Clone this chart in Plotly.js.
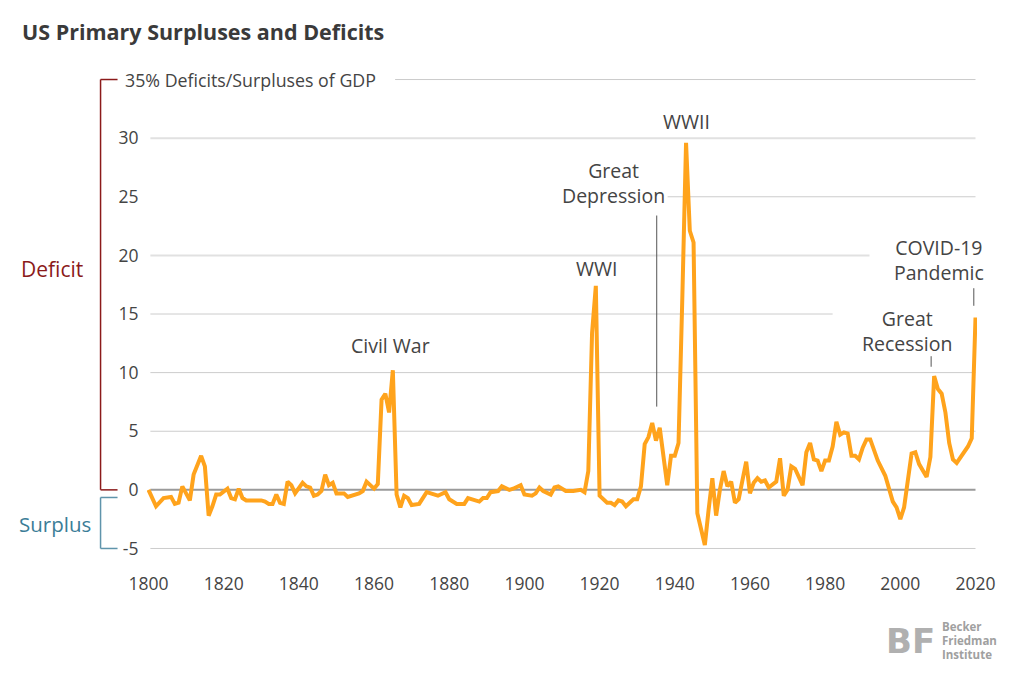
<!DOCTYPE html>
<html>
<head>
<meta charset="utf-8">
<script src="https://cdn.plot.ly/plotly-3.0.1.min.js"></script>
<style>html,body{margin:0;padding:0;background:#fff;}#chart{width:1022px;height:685px;}</style>
</head>
<body>
<div id="chart"></div>
<script>
// Years and primary deficit (+) / surplus (-) as % of GDP
const years = [1800,1802,1804,1806,1807,1808,1809,1811,1812,1814,1815,1816,1817,1818,1819,1821,1822,1823,1824,1825,1826,1828,1830,1831,1832,1833,1834,1835,1836,1837,1838,1839,1841,1842,1843,1844,1845,1846,1847,1848,1849,1850,1852,1853,1854,1856,1857,1858,1860,1861,1862,1863,1864,1865,1866,1867,1868,1869,1870,1872,1874,1877,1879,1880,1882,1884,1885,1886,1888,1889,1890,1891,1893,1894,1896,1897,1899,1900,1902,1903,1904,1905,1907,1908,1909,1911,1913,1915,1916,1917,1918,1919,1920,1922,1923,1924,1925,1926,1927,1929,1930,1931,1932,1933,1934,1935,1936,1938,1939,1940,1941,1942,1943,1944,1945,1946,1948,1949,1950,1951,1952,1953,1954,1955,1956,1957,1959,1960,1961,1962,1963,1964,1965,1967,1968,1969,1970,1971,1972,1974,1975,1976,1977,1978,1979,1980,1981,1982,1983,1984,1985,1986,1987,1988,1989,1990,1991,1992,1993,1994,1996,1997,1998,1999,2000,2001,2002,2003,2004,2005,2007,2008,2009,2010,2011,2012,2013,2014,2015,2016,2017,2018,2019,2020];
const balance = [0.0,-1.4,-0.7,-0.6,-1.2,-1.1,0.3,-0.9,1.3,2.9,2.0,-2.2,-1.4,-0.4,-0.4,0.1,-0.7,-0.8,0.1,-0.7,-0.9,-0.9,-0.9,-1.0,-1.2,-1.2,-0.4,-1.1,-1.2,0.7,0.4,-0.3,0.6,0.3,0.2,-0.5,-0.4,-0.1,1.3,0.4,0.6,-0.3,-0.3,-0.6,-0.5,-0.3,-0.1,0.7,0.1,0.5,7.7,8.2,6.6,10.2,-0.4,-1.5,-0.5,-0.7,-1.3,-1.2,-0.2,-0.5,-0.2,-0.8,-1.2,-1.2,-0.7,-0.8,-1.0,-0.7,-0.7,-0.2,-0.1,0.3,0.0,0.1,0.4,-0.4,-0.5,-0.3,0.2,-0.1,-0.4,0.2,0.3,-0.1,-0.1,0.0,-0.2,1.6,13.4,17.4,-0.5,-1.1,-1.1,-1.3,-0.9,-1.0,-1.4,-0.8,-0.8,0.3,3.9,4.5,5.7,4.2,5.3,0.4,2.9,2.9,4.0,16.3,29.6,22.1,21.1,-2.0,-4.7,-1.7,1.0,-2.2,0.0,1.6,0.3,0.7,-1.1,-0.8,2.4,-0.3,0.6,1.0,0.7,0.8,0.2,0.7,2.7,-0.5,0.0,2.0,1.8,0.4,3.2,4.0,2.6,2.5,1.6,2.5,2.5,3.7,5.8,4.7,4.9,4.8,2.9,2.9,2.6,3.6,4.3,4.3,3.5,2.5,1.2,0.0,-1.0,-1.5,-2.5,-1.5,0.9,3.1,3.2,2.2,1.1,2.8,9.7,8.6,8.2,6.6,4.0,2.6,2.3,2.8,3.3,3.7,4.4,14.7];

const xTicks = [1800,1820,1840,1860,1880,1900,1920,1940,1960,1980,2000,2020];
const yTicks = [-5,0,5,10,15,20,25,30];
const yTickLabels = ['-5','0','5','10','15','20','25','30'];

// Event labels
const eventText = ['Civil War','WWI','Great<br>Depression','WWII','COVID-19<br>Pandemic','Great<br>Recession'];
const eventYear = [1864.3,1919.3,1923.6,1943.0,2010.4,2001.9];
const eventValue = [12.3,18.9,26.15,31.4,19.6,13.55];

// Leader lines [year, from, to]
const leaderYear = [1935.2,2019.55,2008.2];
const leaderFrom = [23.4,17.2,11.4];
const leaderTo = [7.1,15.7,10.5];

// gridlines: value, start year, end year
const gridValue = [35,30,25,20,15,10,5,-5];
const gridStart = [1865.6,1800.5,1938.1,1800.5,1800.5,1800.5,1800.5,1800.5];
const gridEnd = [2020,2020,2020,1991.8,1982,2020,2020,2020];
const gridThick = [false,true,false,true,false,false,false,false];

const FONT = '"Open Sans", Lato, "DejaVu Sans", sans-serif';
const TXT = '#444444';

const shapes = [];
gridValue.forEach((v,i)=>{
  shapes.push({type:'line',xref:'x',yref:'y',layer:'below',x0:gridStart[i],x1:gridEnd[i],y0:v,y1:v,
    line:{color:gridThick[i]?'#e1e1e1':'#cccccc',width:gridThick[i]?2:1}});
});
// zero line
shapes.push({type:'line',xref:'x',yref:'y',layer:'below',x0:1800.5,x1:2020,y0:0,y1:0,line:{color:'#9a9a9a',width:2}});
// leader lines
leaderYear.forEach((x,i)=>{
  shapes.push({type:'line',xref:'x',yref:'y',x0:x,x1:x,y0:leaderFrom[i],y1:leaderTo[i],line:{color:'#555555',width:1}});
});
// brackets
const bx0 = -0.05596, bx1 = -0.0355;
const red = '#8b1a1a', blue = '#3b7d97', blueLine = '#5f94ab';
shapes.push({type:'line',xref:'paper',yref:'y',x0:bx0,x1:bx0,y0:35,y1:0,line:{color:red,width:1.5}});
shapes.push({type:'line',xref:'paper',yref:'y',x0:bx0,x1:bx1,y0:35,y1:35,line:{color:red,width:1.5}});
shapes.push({type:'line',xref:'paper',yref:'y',x0:bx0,x1:bx1,y0:0,y1:0,line:{color:red,width:1.5}});
shapes.push({type:'line',xref:'paper',yref:'y',x0:bx0,x1:bx0,y0:-0.65,y1:-5,line:{color:blueLine,width:1.5}});
shapes.push({type:'line',xref:'paper',yref:'y',x0:bx0,x1:bx1,y0:-0.65,y1:-0.65,line:{color:blueLine,width:1.5}});
shapes.push({type:'line',xref:'paper',yref:'y',x0:bx0,x1:bx1,y0:-5,y1:-5,line:{color:blueLine,width:1.5}});

const annotations = eventText.map((t,i)=>({
  text:t,x:eventYear[i],y:eventValue[i],xref:'x',yref:'y',showarrow:false,
  xanchor:'center',yanchor:'middle',align:'center',font:{family:FONT,size:19.5,color:TXT}
}));
annotations.push({text:'35% Deficits/Surpluses of GDP',x:-0.0295,y:35,xref:'paper',yref:'y',showarrow:false,
  xanchor:'left',yanchor:'middle',font:{family:FONT,size:17.8,color:TXT}});
annotations.push({text:'Deficit',x:-0.1149,y:18.8,xref:'paper',yref:'y',showarrow:false,
  xanchor:'center',yanchor:'middle',font:{family:FONT,size:21,color:red}});
annotations.push({text:'Surplus',x:-0.1113,y:-2.9,xref:'paper',yref:'y',showarrow:false,
  xanchor:'center',yanchor:'middle',font:{family:FONT,size:20.5,color:blue}});
// logo
annotations.push({text:'<b>BF</b>',x:0.920,y:-0.186,xref:'paper',yref:'paper',showarrow:false,
  xanchor:'center',yanchor:'middle',font:{family:'"DejaVu Sans", sans-serif',size:34,color:'#b0b0b0'}});
['Becker','Friedman','Institute'].forEach((t,i)=>{
  annotations.push({text:'<b>'+t+'</b>',x:0.955,y:[-0.157,-0.186,-0.215][i],xref:'paper',yref:'paper',showarrow:false,
    xanchor:'left',yanchor:'middle',font:{family:FONT,size:11.5,color:'#a0a0a0'}});
});

const data = [{
  type:'scatter',mode:'lines',x:years,y:balance,
  line:{color:'#FFA31C',width:4,shape:'linear'},hoverinfo:'x+y'
}];

const layout = {
  width:1022,height:685,
  paper_bgcolor:'#ffffff',plot_bgcolor:'#ffffff',
  margin:{l:146.5,r:44.5,t:75.8,b:132.8},
  showlegend:false,
  font:{family:FONT,color:TXT},
  title:{text:'<b>US Primary Surpluses and Deficits</b>',x:0.0215,xref:'container',xanchor:'left',
    y:0.952,yref:'container',yanchor:'middle',font:{family:FONT,size:21.5,color:'#3a3a3a'}},
  xaxis:{range:[1799.6,2020.4],tickvals:xTicks,showgrid:false,zeroline:false,showline:false,
    ticks:'outside',ticklen:16,tickcolor:'rgba(0,0,0,0)',tickfont:{family:FONT,size:17.5,color:TXT}},
  yaxis:{range:[-5.3,35.3],tickvals:yTicks,ticktext:yTickLabels,showgrid:false,zeroline:false,showline:false,
    ticks:'outside',ticklen:4,tickcolor:'rgba(0,0,0,0)',tickfont:{family:FONT,size:17.5,color:TXT}},
  shapes:shapes,
  annotations:annotations
};

Plotly.newPlot('chart',data,layout,{displayModeBar:false,staticPlot:true});
</script>
</body>
</html>
